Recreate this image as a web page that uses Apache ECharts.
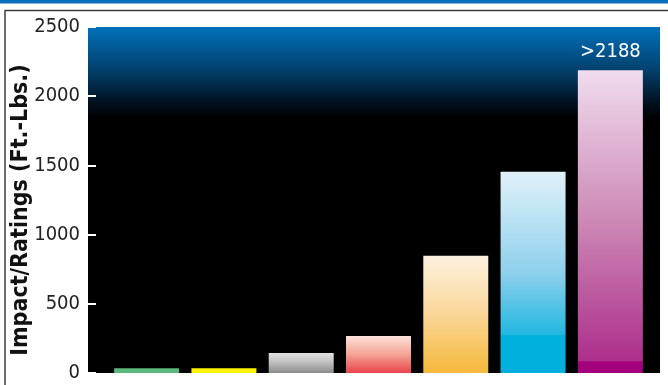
<!DOCTYPE html>
<html>
<head>
<meta charset="utf-8">
<script src="https://cdn.jsdelivr.net/npm/echarts@6/dist/echarts.min.js"></script>
<style>
  html, body { margin: 0; padding: 0; background: #ffffff; }
  #chart { width: 668px; height: 385px; }
</style>
</head>
<body>
<div id="chart"></div>
<script>
// Impact ratings, one bar per product level (ft-lbs)
const categories = ['1', '2', '3', '4', '5', '6', '7'];
const impactValues = [35, 35, 145, 268, 848, 1455, 2188];
const yTicks = { min: 0, max: 2500, step: 500 };
const axisTitle = 'Impact/Ratings (Ft.-Lbs.)';

// vertical fill for each bar, top colour first
const barFills = [
  [[0, '#5cb97c'], [1, '#5cb97c']],
  [[0, '#fcf400'], [1, '#fcf400']],
  [[0, '#e4e4e4'], [0.5, '#bdbdbd'], [1, '#8a8a8a']],
  [[0, '#fde3dc'], [0.5, '#f4a393'], [1, '#e9444c']],
  [[0, '#fdf2e0'], [0.5, '#fad698'], [1, '#f5b93b']],
  [[0, '#e0f1f9'], [0.5, '#8fd0ec'], [0.81, '#22b7e0'], [0.815, '#00b0dd'], [1, '#00afdc']],
  [[0, '#f0dcee'], [0.5, '#cc88b5'], [0.96, '#ad2f8c'], [0.963, '#a4007e'], [1, '#a4007e']]
];

const FONT = "'Liberation Sans Narrow', 'DejaVu Sans Condensed', 'Liberation Sans', sans-serif";

function vGrad(stops) {
  return new echarts.graphic.LinearGradient(0, 0, 0, 1,
    stops.map(s => ({ offset: s[0], color: s[1] })));
}

const barData = impactValues.map((v, i) => {
  const item = { value: v, itemStyle: { color: vGrad(barFills[i]) } };
  if (i === impactValues.length - 1) {
    item.label = {
      show: true, position: 'top', distance: 8,
      formatter: p => '>' + p.value,
      color: '#ffffff', fontSize: 20, fontFamily: FONT
    };
  }
  return item;
});

const chart = echarts.init(document.getElementById('chart'), null, { renderer: 'canvas' });

chart.setOption({
  animation: false,
  backgroundColor: '#ffffff',
  graphic: [
    { type: 'rect', shape: { x: 0, y: 0, width: 668, height: 3.5 }, style: { fill: '#0a6fba' }, silent: true },
    { type: 'line', shape: { x1: 4.5, y1: 10.5, x2: 668, y2: 10.5 }, style: { stroke: '#3a3a3a', lineWidth: 1.5 }, silent: true },
    { type: 'line', shape: { x1: 5, y1: 10.5, x2: 5, y2: 385 }, style: { stroke: '#3a3a3a', lineWidth: 1.5 }, silent: true }
  ],
  grid: [
    {
      left: 88, right: 8, top: 27, bottom: 12,
      containLabel: false, outerBoundsMode: 'none',
      show: true, borderWidth: 0,
      backgroundColor: vGrad([[0, '#0071bb'], [0.12, '#03426f'], [0.22, '#01101f'], [0.265, '#000000'], [1, '#000000']])
    },
    { left: 108, right: 19, top: 27, bottom: 12, containLabel: false, outerBoundsMode: 'none' }
  ],
  xAxis: [
    { gridIndex: 0, type: 'value', show: false },
    { gridIndex: 1, type: 'category', data: categories, show: false }
  ],
  yAxis: [
    {
      gridIndex: 0, type: 'value',
      min: yTicks.min, max: yTicks.max, interval: yTicks.step,
      name: axisTitle, nameLocation: 'middle', nameGap: 55, nameMoveOverlap: false,
      nameTextStyle: { fontFamily: FONT, fontWeight: 'bold', fontSize: 23, color: '#111111', padding: [0, 20, 0, 0] },
      axisLine: { show: false },
      axisTick: { show: true, inside: true, length: 8, lineStyle: { color: '#ffffff', width: 2 } },
      splitLine: { show: false },
      axisLabel: { fontFamily: FONT, fontSize: 20, color: '#222222', margin: 8, formatter: v => String(v) }
    },
    { gridIndex: 1, type: 'value', min: yTicks.min, max: yTicks.max, show: false }
  ],
  series: [
    {
      type: 'bar',
      xAxisIndex: 1, yAxisIndex: 1,
      barWidth: 65,
      data: barData
    }
  ]
});
</script>
</body>
</html>
